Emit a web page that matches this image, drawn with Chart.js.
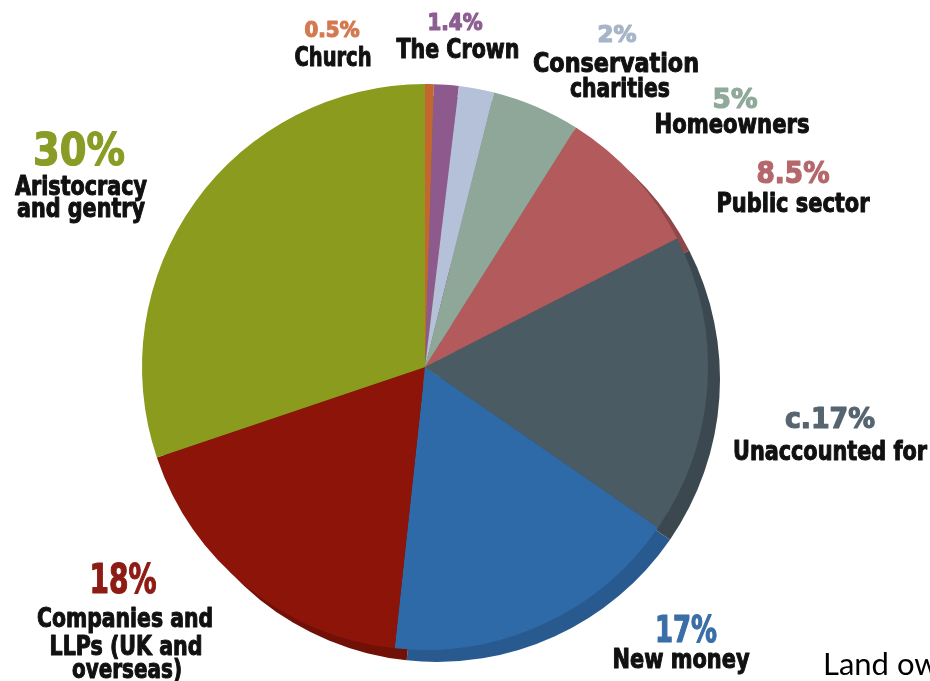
<!DOCTYPE html>
<html>
<head>
<meta charset="utf-8">
<script src="https://cdn.jsdelivr.net/npm/chart.js@4.4.0/dist/chart.umd.min.js"></script>
<style>
  html, body { margin: 0; padding: 0; background: #fff; }
  #wrap { width: 930px; height: 681px; position: relative; }
</style>
</head>
<body>
<div id="wrap"><canvas id="pie"></canvas></div>
<script>
// who owns the land, clockwise from 12 o'clock
const categories = ['Church', 'The Crown', 'Conservation charities', 'Homeowners', 'Public sector',
  'Unaccounted for', 'New money', 'Companies and LLPs (UK and overseas)', 'Aristocracy and gentry'];
const shares = [0.5, 1.4, 2, 5, 8.5, 17, 17, 18, 30];
const shareLabels = ['0.5%', '1.4%', '2%', '5%', '8.5%', 'c.17%', '17%', '18%', '30%'];
const nameLines = [['Church'], ['The Crown'], ['Conservation', 'charities'], ['Homeowners'], ['Public sector'],
  ['Unaccounted for'], ['New money'], ['Companies and', 'LLPs (UK and', 'overseas)'], ['Aristocracy', 'and gentry']];
const footnote = 'Land ow';

const sliceColors = ['#c4662f', '#8e5a8e', '#b4c1d8', '#8fa798', '#b35a5c', '#4b5b63', '#2f6aa8', '#8c1409', '#8a9b1d'];
const rimColors   = ['#9a4f24', '#6e456e', '#8e9ab0', '#728679', '#8f4749', '#3b484f', '#285a8f', '#701007', '#6f7c17'];
const labelColors = ['#d47a50', '#8c5e91', '#a7b5c8', '#8fa99b', '#b5686b', '#566570', '#3a6ea6', '#8c1c14', '#8a9c25'];

// label placement: [centre x, baseline y, cap height, text width]
const pctPos = [
  [332, 37, 16, 55], [455, 30, 17, 55], [617, 42, 17, 39], [735, 108, 20, 45], [793, 183, 22, 73],
  [830, 428, 21, 90], [686, 642, 27, 62], [123, 593, 30, 67], [79, 165, 33, 92]
];
const namePos = [
  [[333, 66, 19, 77]],
  [[458, 58, 19, 123]],
  [[616, 72, 19, 166], [620, 97, 19, 100]],
  [[732, 133, 19, 155]],
  [[793, 212, 19, 153]],
  [[830, 460, 19, 194]],
  [[681, 668, 19, 137]],
  [[125, 627, 19, 176], [126, 655, 19, 153], [127, 678, 19, 110]],
  [[81, 195, 19, 132], [81, 217, 19, 128]]
];
const rimOffset = [12, 12];

const LABEL_FONT = '"DejaVu Sans Condensed", "DejaVu Sans", sans-serif';

function drawFitted(ctx, text, pos, color, heavy) {
  const [cx, base, cap, w] = pos;
  const size = cap / 0.73;
  ctx.save();
  ctx.font = 'bold ' + size + 'px ' + LABEL_FONT;
  ctx.fillStyle = color;
  ctx.strokeStyle = color;
  ctx.lineJoin = 'round';
  ctx.lineWidth = heavy;
  ctx.textAlign = 'left';
  ctx.textBaseline = 'alphabetic';
  const natural = ctx.measureText(text).width;
  ctx.translate(cx - w / 2, base);
  ctx.scale(w / natural, 1);
  ctx.fillText(text, 0, 0);
  ctx.strokeText(text, 0, 0);
  ctx.restore();
}

// darker copy of the slices, shifted, to fake the tilted edge
const rimPlugin = {
  id: 'rim',
  beforeDatasetsDraw(chart) {
    const ctx = chart.ctx;
    const meta = chart.getDatasetMeta(0);
    ctx.save();
    ctx.translate(rimOffset[0], rimOffset[1]);
    meta.data.forEach((arc, i) => {
      const p = arc.getProps(['x', 'y', 'startAngle', 'endAngle', 'outerRadius']);
      ctx.beginPath();
      ctx.moveTo(p.x, p.y);
      ctx.arc(p.x, p.y, p.outerRadius, p.startAngle, p.endAngle);
      ctx.closePath();
      ctx.fillStyle = rimColors[i];
      ctx.fill();
    });
    ctx.restore();
  }
};

const labelPlugin = {
  id: 'sliceLabels',
  afterDraw(chart) {
    const ctx = chart.ctx;
    categories.forEach((c, i) => {
      drawFitted(ctx, shareLabels[i], pctPos[i], labelColors[i], 1.2);
      nameLines[i].forEach((line, j) => drawFitted(ctx, line, namePos[i][j], '#111111', 1));
    });
    ctx.save();
    ctx.font = '31px Lato, "Open Sans", sans-serif';
    ctx.fillStyle = '#000';
    ctx.textBaseline = 'alphabetic';
    ctx.fillText(footnote, 823, 675);
    ctx.restore();
  }
};

new Chart(document.getElementById('pie'), {
  type: 'pie',
  data: {
    labels: categories,
    datasets: [{
      data: shares,
      backgroundColor: sliceColors,
      borderWidth: 0
    }]
  },
  options: {
    responsive: true,
    maintainAspectRatio: false,
    animation: false,
    layout: { padding: { left: 142, right: 222, top: 84, bottom: 31 } },
    plugins: {
      legend: { display: false },
      tooltip: { enabled: false }
    }
  },
  plugins: [rimPlugin, labelPlugin]
});
</script>
</body>
</html>
